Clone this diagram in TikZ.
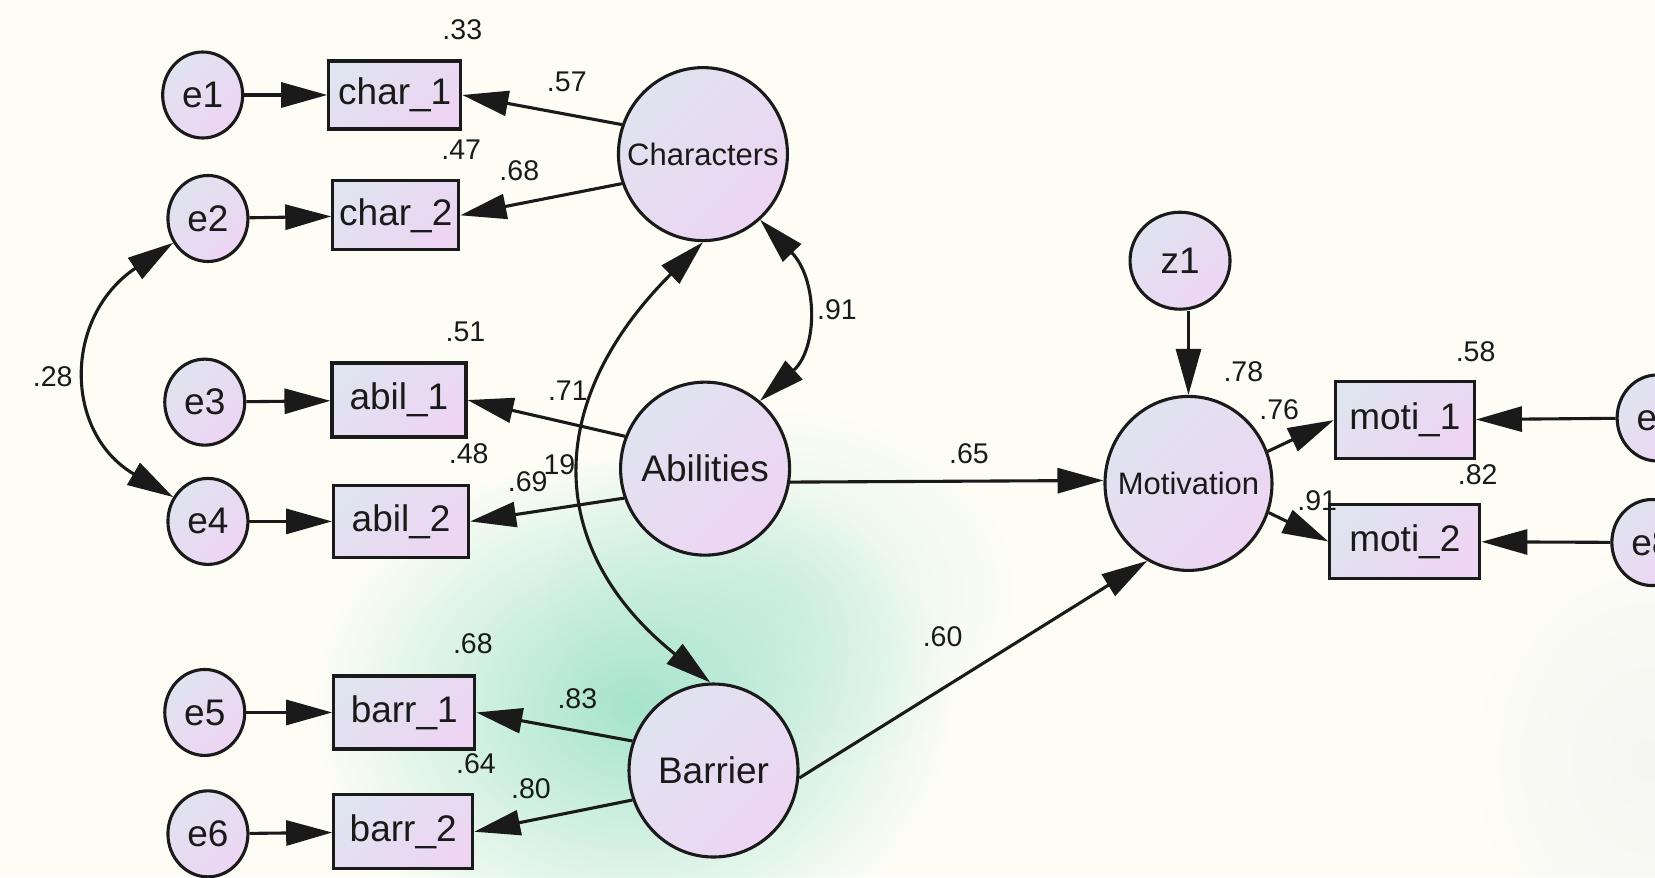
\documentclass[tikz,border=0pt]{standalone}
\usepackage{fontspec}
\setmainfont{Liberation Sans}
\usetikzlibrary{arrows.meta,shapes.geometric,fadings}
\definecolor{bg}{HTML}{FDFDF6}
\definecolor{nodeA}{HTML}{E0E3F0}
\definecolor{nodeB}{HTML}{EDD5F3}
\definecolor{blobg}{HTML}{A6E4CE}
\definecolor{ink}{HTML}{1A1A1A}
\tikzfading[name=blobfade, inner color=transparent!0, outer color=transparent!100]
\newcommand{\ctext}[1]{\makebox[0pt][c]{#1}}
\tikzset{
 sem/.style={draw=ink, line width=3.1pt, top color=nodeA, bottom color=nodeB, shading angle=45, text=ink, inner sep=0pt},
 errv/.style={sem, ellipse, minimum width=80pt, minimum height=86pt, font=\fontsize{37}{37}\selectfont},
 latent/.style={sem, ellipse, minimum width=169pt, minimum height=173pt, font=\fontsize{37}{37}\selectfont},
 obs/.style={sem, rectangle, font=\fontsize{37}{37}\selectfont},
 lbl/.style={font=\fontsize{28.5}{28.5}\selectfont, text=ink, inner sep=0pt},
 arr/.style={draw=ink, line width=3.1pt, -{Triangle[length=46pt,width=25pt]}},
 cov/.style={draw=ink, line width=3.1pt, {Triangle[length=46pt,width=25pt]}-{Triangle[length=46pt,width=25pt]}},
}
\begin{document}
\begin{tikzpicture}[x=1.0555pt, y=-1.0555pt]
\useasboundingbox (0,0) rectangle (1568,831);
\fill[bg] (0,0) rectangle (1568,831);
\fill[blobg, path fading=blobfade] (600,670) ellipse (300 and 240);
\fill[blobg, opacity=0.35, path fading=blobfade] (740,560) ellipse (220 and 170);
\fill[gray!12, opacity=0.6, path fading=blobfade] (1560,720) ellipse (160 and 200);

% error terms
\node[errv] (e1) at (192,90) {\ctext{e1}};
\node[errv] (e2) at (197,207) {\ctext{e2}};
\node[errv] (e3) at (194,381) {\ctext{e3}};
\node[errv] (e4) at (197,494) {\ctext{e4}};
\node[errv] (e5) at (194,675) {\ctext{e5}};
\node[errv] (e6) at (197,790) {\ctext{e6}};
\node[errv] (e7) at (1570,396) {\ctext{e7}};
\node[errv] (e8) at (1565,514) {\ctext{e8}};
\node[errv, minimum width=100pt, minimum height=97pt] (z1) at (1118,247) {\ctext{z1}};

% observed
\node[obs, minimum width=132pt, minimum height=68pt] (c1) at (374,90) {char\_1};
\node[obs, minimum width=126pt, minimum height=69pt] (c2) at (375,204) {char\_2};
\node[obs, minimum width=134pt, minimum height=74pt] (a1) at (378,379) {abil\_1};
\node[obs, minimum width=135pt, minimum height=72pt] (a2) at (380,494) {abil\_2};
\node[obs, minimum width=141pt, minimum height=73pt] (b1) at (383,675) {barr\_1};
\node[obs, minimum width=139pt, minimum height=74pt] (b2) at (382,788) {barr\_2};
\node[obs, minimum width=139pt, minimum height=77pt] (m1) at (1331,398) {moti\_1};
\node[obs, minimum width=150pt, minimum height=74pt] (m2) at (1331,513) {moti\_2};

% latent
\node[latent, font=\fontsize{31}{31}\selectfont] (C) at (666,146) {\ctext{Characters}};
\node[latent] (A) at (668,444) {\ctext{Abilities}};
\node[latent] (B) at (676,730) {\ctext{Barrier}};
\node[latent, minimum width=167pt, minimum height=174pt, font=\fontsize{31}{31}\selectfont] (M) at (1126,458) {\ctext{Motivation}};

% error arrows
\draw[arr] (e1) -- (c1);
\draw[arr] (e2) -- (c2);
\draw[arr] (e3) -- (a1);
\draw[arr] (e4) -- (a2);
\draw[arr] (e5) -- (b1);
\draw[arr] (e6) -- (b2);
\draw[arr] (e7) -- (m1);
\draw[arr] (e8) -- (m2);
\draw[arr] (z1.south -| M.north) -- (M.north);

% loadings
\draw[arr] (C.160) -- (c1.east);
\draw[arr] (C.200) -- (c2.east);
\draw[arr] (A.158) -- (a1.east);
\draw[arr] (A.200) -- (a2.east);
\draw[arr] (B.160) -- (b1.east);
\draw[arr] (B.200) -- (b2.east);
\draw[arr] (M.22) -- (m1.west);
\draw[arr] (M.-20) -- (m2.west);

% structural paths
\draw[arr] (A.-9) -- (M.178);
\draw[arr] (B.-5) -- (M.242);

% covariances
\draw[cov] (e2.215) .. controls (60,300) and (60,410) .. (e4.145);
\draw[cov] (C.-49) .. controls (775,265) and (775,330) .. (A.51);
\draw[cov] (C.-90) .. controls (515,380) and (515,520) .. (B.92);

% labels
\node[lbl] (l1) at (438,28) {.33};
\node[lbl] (l2) at (537,78) {.57};
\node[lbl] (l3) at (437,142) {.47};
\node[lbl] (l4) at (492,162) {.68};
\node[lbl] (l5) at (793,293) {.91};
\node[lbl] (l6) at (50,357) {.28};
\node[lbl] (l7) at (441,314) {.51};
\node[lbl] (l8) at (538,370) {.71};
\node[lbl] (l9) at (444,430) {.48};
\node[lbl] (l10) at (500,456) {.69};
\node[lbl] (l11) at (530,440) {19};
\node[lbl] (l12) at (918,430) {.65};
\node[lbl] (l13) at (1178,352) {.78};
\node[lbl] (l14) at (1212,388) {.76};
\node[lbl] (l15) at (1398,333) {.58};
\node[lbl] (l16) at (1400,450) {.82};
\node[lbl] (l17) at (1248,474) {.91};
\node[lbl] (l18) at (893,603) {.60};
\node[lbl] (l19) at (448,610) {.68};
\node[lbl] (l20) at (547,662) {.83};
\node[lbl] (l21) at (451,724) {.64};
\node[lbl] (l22) at (503,747) {.80};
\end{tikzpicture}
\end{document}
